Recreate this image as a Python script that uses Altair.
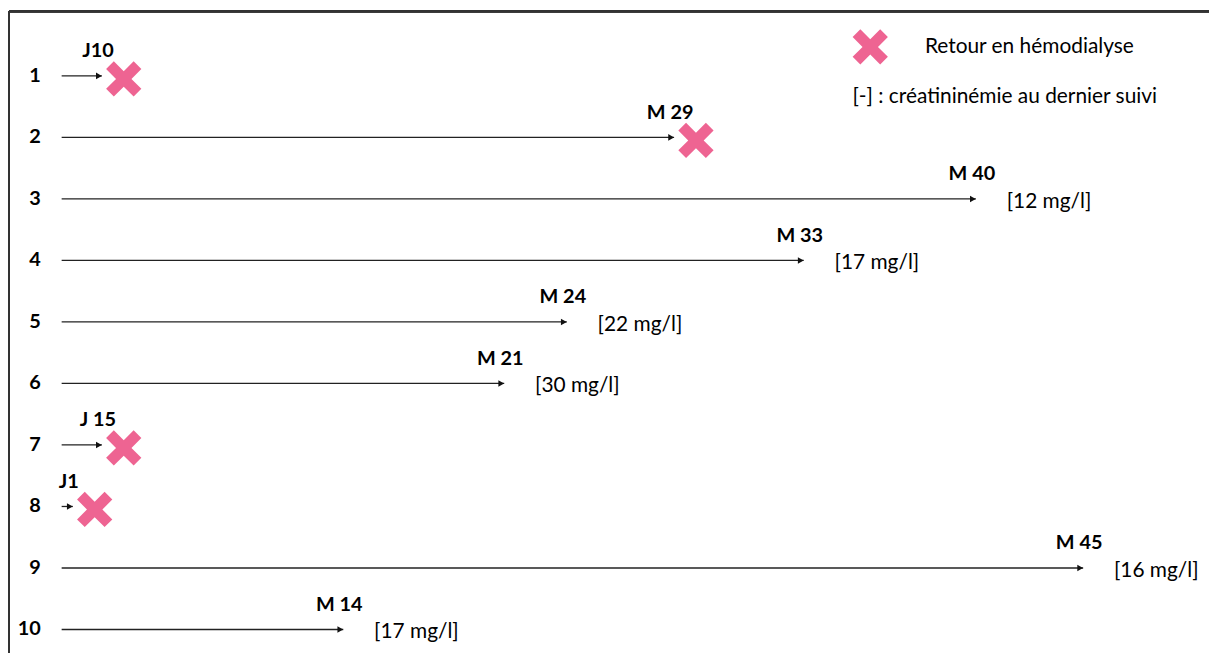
import altair as alt
import pandas as pd

# ---- data ----
patients = [1, 2, 3, 4, 5, 6, 7, 8, 9, 10]
# end of each arrow, in months as drawn on the (implicit) horizontal axis
drawn_end = [1.8, 27.4, 40.9, 33.2, 22.6, 19.8, 1.8, 0.5, 45.7, 12.6]
time_labels = ["J10", "M 29", "M 40", "M 33", "M 24", "M 21", "J 15", "J1", "M 45", "M 14"]
creat_labels = ["", "", "[12 mg/l]", "[17 mg/l]", "[22 mg/l]", "[30 mg/l]", "", "", "[16 mg/l]", "[17 mg/l]"]
dialysis = [True, True, False, False, False, False, True, True, False, False]
legend_label = "Retour en hémodialyse"
legend_note = "[-] : créatininémie au dernier suivi"

df = pd.DataFrame({
    "patient": patients,
    "start": [0] * len(patients),
    "end": drawn_end,
    "tlabel": time_labels,
    "creat": creat_labels,
    "dialysis": dialysis,
    "legend": [legend_label if d else "" for d in dialysis],
})

W, H = 1209, 647
PINK = "#EE6492"
FONT = "Lato"
XPATH = ("M0.5625,-1L1,-0.5625L0.4375,0L1,0.5625L0.5625,1L0,0.4375L-0.5625,1"
         "L-1,0.5625L-0.4375,0L-1,-0.5625L-0.5625,-1L0,-0.4375Z")

xs = alt.Scale(domain=[-2.4, 51.33], nice=False, zero=False)
ys = alt.Scale(domain=[-0.07, 10.38], nice=False, zero=False, reverse=True)
X = alt.X("end:Q", scale=xs, axis=None)
Y = alt.Y("patient:Q", scale=ys, axis=None)

base = alt.Chart(df)

shafts = base.mark_rule(color="#222222", strokeWidth=1.3).encode(
    x=alt.X("start:Q", scale=xs, axis=None), x2="end:Q", y=Y
)
heads = base.mark_point(shape="triangle-right", filled=True, color="#111111",
                        size=45, opacity=1, xOffset=-3).encode(x=X, y=Y)

row_nums = base.mark_text(align="right", baseline="middle", font=FONT,
                          fontSize=20, fontWeight="bold", color="black").encode(
    x=alt.value(33), y=Y, text="patient:N"
)

tlabels = base.mark_text(align="center", baseline="middle", dx=-4, dy=-25,
                         font=FONT, fontSize=20, fontWeight="bold", color="black").encode(
    x=X, y=Y, text="tlabel:N"
)

clabels = base.mark_text(align="left", baseline="middle", dx=31, dy=3,
                         font=FONT, fontSize=21, color="black").encode(
    x=X, y=Y, text="creat:N"
)

markers = base.transform_filter(alt.datum.dialysis).mark_point(
    filled=True, size=1260, opacity=1, color=PINK, strokeWidth=0,
    xOffset=22, yOffset=3
).encode(
    x=X, y=Y,
    shape=alt.Shape("legend:N", scale=alt.Scale(range=[XPATH]),
                    legend=alt.Legend(
                        orient="none", legendX=850, legendY=19, padding=0,
                        title=legend_note, titleOrient="bottom", titleAnchor="start",
                        titleFont=FONT, titleFontSize=21, titleFontWeight="normal",
                        titleColor="black", titleBaseline="top", titlePadding=21,
                        titleLimit=0, labelLimit=0,
                        labelFont=FONT, labelFontSize=21, labelColor="black",
                        labelOffset=37, symbolSize=1260, symbolType=XPATH,
                        symbolFillColor=PINK, symbolStrokeWidth=0, symbolOpacity=1,
                    )),
)

frame_top = alt.Chart(df).mark_rule(color="#333333", strokeWidth=2).encode(
    x=alt.value(1), x2=alt.value(W), y=alt.value(1)
)
frame_left = alt.Chart(df).mark_rule(color="#333333", strokeWidth=2).encode(
    x=alt.value(1), y=alt.value(1), y2=alt.value(H)
)

chart = alt.layer(frame_top, frame_left, shafts, heads, row_nums, tlabels, clabels, markers).properties(
    width=W, height=H, padding=0, autosize=alt.AutoSizeParams(type="none"),
    background="white"
).configure_view(stroke=None)

chart.save("out.html", embed_options={"renderer": "svg", "actions": False})
